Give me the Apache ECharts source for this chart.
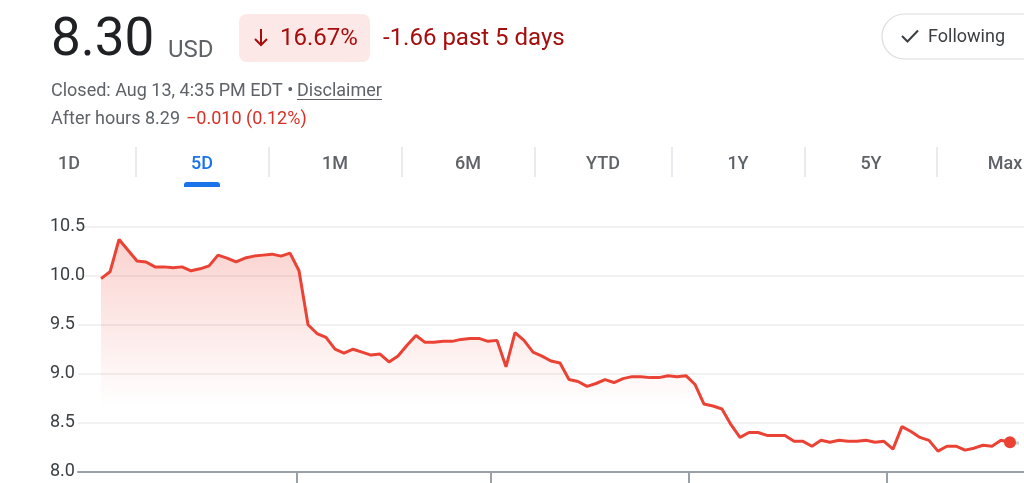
<!DOCTYPE html>
<html>
<head>
<meta charset="utf-8">
<title>5D price</title>
<script src="https://cdn.jsdelivr.net/npm/echarts@6/dist/echarts.min.js"></script>
<style>
  html, body { margin: 0; padding: 0; background: #fff; }
  #chart { width: 1024px; height: 483px; }
</style>
</head>
<body>
<div id="chart"></div>
<script>
'use strict';

// price samples, one every few minutes across the 5 sessions
const PRICES = [
  9.97, 10.04, 10.37, 10.26, 10.15, 10.14, 10.09, 10.09, 10.08, 10.09,
  10.05, 10.07, 10.10, 10.21, 10.18, 10.14, 10.18, 10.20, 10.21, 10.22,
  10.20, 10.23, 10.05, 9.50, 9.41, 9.37, 9.25, 9.21, 9.25, 9.22,
  9.19, 9.20, 9.12, 9.18, 9.29, 9.39, 9.32, 9.32, 9.33, 9.33,
  9.35, 9.36, 9.36, 9.33, 9.34, 9.07, 9.42, 9.34, 9.22, 9.18,
  9.13, 9.11, 8.94, 8.92, 8.87, 8.90, 8.94, 8.91, 8.95, 8.97,
  8.97, 8.96, 8.96, 8.98, 8.97, 8.98, 8.89, 8.69, 8.67, 8.64,
  8.48, 8.35, 8.40, 8.40, 8.37, 8.37, 8.37, 8.31, 8.31, 8.26,
  8.32, 8.30, 8.32, 8.31, 8.31, 8.32, 8.30, 8.31, 8.23, 8.46,
  8.41, 8.35, 8.32, 8.21, 8.26, 8.26, 8.22, 8.24, 8.27, 8.26,
  8.32, 8.30
];
const AFTER_HOURS = [8.30, 8.29];
// session boundaries, in sample units
const DAY_BREAKS = [21.8, 43.3, 65.3, 87.3];
const Y_MIN = 8.0;
const Y_MAX = 10.5;
const Y_STEP = 0.5;
const RANGE_TABS = ['1D', '5D', '1M', '6M', 'YTD', '1Y', '5Y', 'Max'];
const ACTIVE_TAB = '5D';

const RED = '#ea4335';
const FONT = 'Roboto';

const last = PRICES.length - 1;
const lineData = PRICES.map((v, i) => {
  if (i === last) {
    return { value: [i, v], symbol: 'circle', symbolSize: 12 };
  }
  return [i, v];
});
const afterData = AFTER_HOURS.map((v, i) => [last + i, v]);

// header and range tabs
const TAB_CENTERS = [69, 202, 335, 468, 603, 738, 871, 1005];
const TAB_SEPARATORS = [136, 269, 402, 535, 672, 805, 937];

function txt(x, y, text, size, color, extra) {
  return {
    type: 'text', x: x, y: y, silent: true,
    style: Object.assign({
      text: text, fontSize: size, fontFamily: FONT, fill: color,
      verticalAlign: 'middle', align: 'left'
    }, extra || {})
  };
}

let graphics = [
  txt(51, 42, '8.30', 53, '#202124'),
  txt(168, 51, 'USD', 24, '#5f6368'),
  { type: 'rect', shape: { x: 239, y: 14, width: 131, height: 48, r: 8 }, style: { fill: '#fce8e6' }, silent: true },
  { type: 'polyline', shape: { points: [[261, 29], [261, 45]] }, style: { stroke: '#a50e0e', lineWidth: 2 }, silent: true },
  { type: 'polyline', shape: { points: [[255, 39], [261, 45], [267, 39]] }, style: { stroke: '#a50e0e', lineWidth: 2, fill: null }, silent: true },
  txt(280, 39, '16.67%', 24, '#a50e0e'),
  txt(383, 39, '-1.66 past 5 days', 24, '#a50e0e'),
  txt(51, 91, 'Closed: Aug 13, 4:35 PM EDT \u2022', 18, '#5f6368'),
  txt(297, 91, 'Disclaimer', 18, '#5f6368'),
  { type: 'line', shape: { x1: 297, y1: 99.5, x2: 382, y2: 99.5 }, style: { stroke: '#5f6368', lineWidth: 1 }, silent: true },
  txt(51, 119, 'After hours 8.29', 18, '#5f6368'),
  txt(186, 119, '\u22120.010 (0.12%)', 18, '#d93025'),
  { type: 'rect', shape: { x: 882, y: 14, width: 170, height: 45, r: 22.5 }, style: { fill: '#fff', stroke: '#dadce0', lineWidth: 1.2 }, silent: true },
  { type: 'polyline', shape: { points: [[902, 36], [907.5, 41.5], [918, 30.5]] }, style: { stroke: '#3c4043', lineWidth: 2, fill: null }, silent: true },
  txt(928, 37, 'Following', 18, '#3c4043'),
  { type: 'rect', shape: { x: 184, y: 182, width: 36, height: 5, r: [3, 3, 0, 0] }, style: { fill: '#1a73e8' }, silent: true }
];
RANGE_TABS.forEach((t, i) => {
  const active = t === ACTIVE_TAB;
  graphics.push(txt(TAB_CENTERS[i], 164, t, 18, active ? '#1a73e8' : '#5f6368',
    { align: 'center', fontWeight: 500 }));
});
TAB_SEPARATORS.forEach((x) => {
  graphics.push({ type: 'line', shape: { x1: x, y1: 147, x2: x, y2: 177 }, style: { stroke: '#e3e5e8', lineWidth: 1.5 }, silent: true });
});

const chart = echarts.init(document.getElementById('chart'), null, { renderer: 'canvas' });
const options = {
  animation: false,
  backgroundColor: '#fff',
  graphic: graphics,
  grid: { left: 78, right: 0, top: 226.7, bottom: 11.3 },
  xAxis: {
    type: 'value',
    min: -2.56,
    max: 102.56,
    axisLine: { lineStyle: { color: '#9aa0a6', width: 2 } },
    axisTick: { customValues: DAY_BREAKS, length: 12, lineStyle: { color: '#9aa0a6', width: 2 } },
    axisLabel: { show: false },
    splitLine: { show: false }
  },
  yAxis: {
    type: 'value',
    min: Y_MIN,
    max: Y_MAX,
    interval: Y_STEP,
    axisLine: { show: false },
    axisTick: { show: false },
    axisLabel: {
      margin: 28, align: 'left', fontSize: 18, fontFamily: FONT, color: '#3c4043',
      formatter: (v) => v.toFixed(1)
    },
    splitLine: { lineStyle: { color: '#f1f1f1', width: 2 } }
  },
  series: [
    {
      type: 'line',
      data: lineData,
      symbol: 'none',
      showAllSymbol: true,
      itemStyle: { color: RED },
      lineStyle: { color: RED, width: 3 },
      areaStyle: {
        color: new echarts.graphic.LinearGradient(0, 0, 0, 1, [
          { offset: 0, color: 'rgba(234,67,53,0.34)' },
          { offset: 0.72, color: 'rgba(234,67,53,0)' }
        ])
      },
      z: 3
    },
    {
      type: 'line',
      data: afterData,
      symbol: 'none',
      lineStyle: { color: '#c8cacd', width: 3 },
      z: 2
    }
  ]
};
chart.setOption(options);
</script>
</body>
</html>
